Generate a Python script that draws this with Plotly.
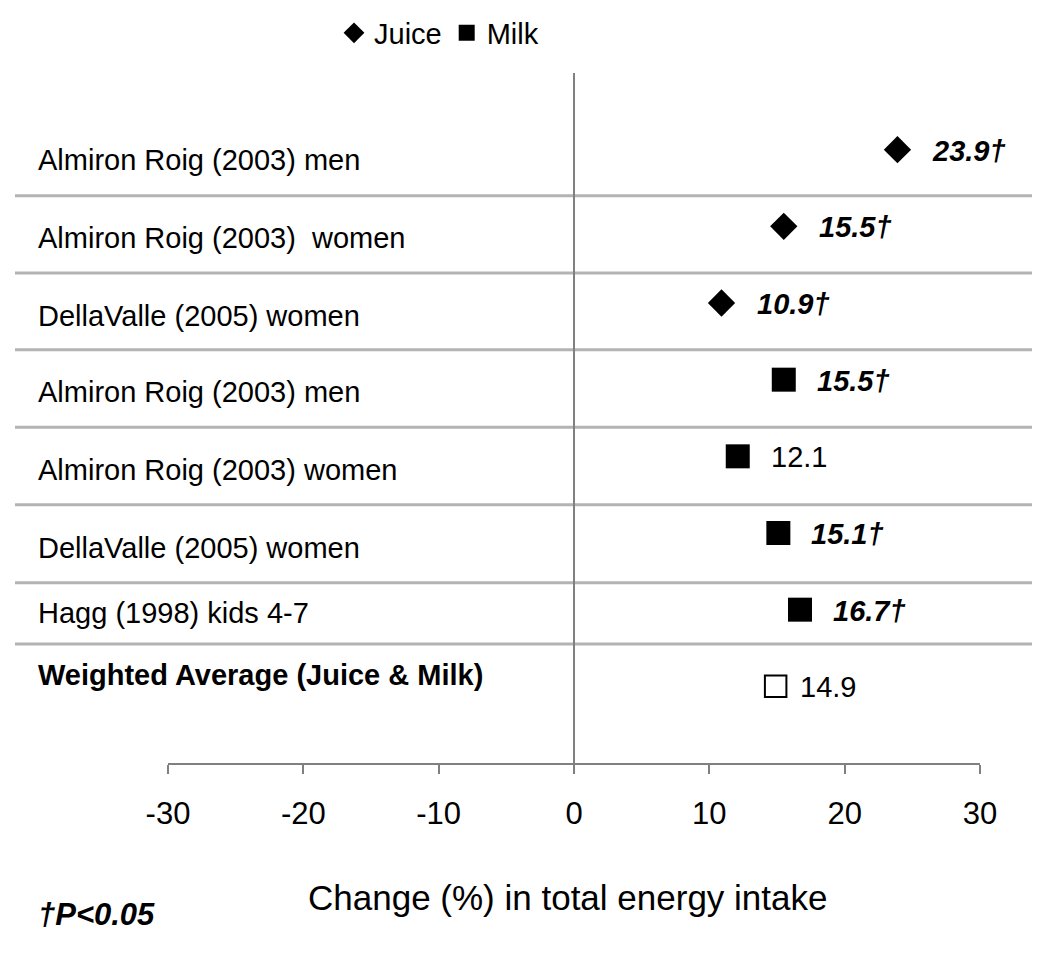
import plotly.graph_objects as go

# ---------------- data ----------------
row_labels = [
    "Almiron Roig (2003) men",
    "Almiron Roig (2003)\u00a0 women",
    "DellaValle (2005) women",
    "Almiron Roig (2003) men",
    "Almiron Roig (2003) women",
    "DellaValle (2005) women",
    "Hagg (1998) kids 4-7",
    "Weighted Average (Juice & Milk)",
]
juice_values = [23.9, 15.5, 10.9]
milk_values = [15.5, 12.1, 15.1, 16.7]
average_values = [14.9]
juice_significant = [True, True, True]
milk_significant = [True, False, True, True]
average_significant = [False]
tick_values = [-30, -20, -10, 0, 10, 20, 30]

# ---------------- layout helpers ----------------
row_pos = [8, 7, 6, 5, 4, 3, 2, 1]
juice_rows = row_pos[0:3]
milk_rows = row_pos[3:7]
average_rows = row_pos[7:8]
label_offsets = [-0.13, -0.15, -0.17, -0.16, -0.18, -0.195, -0.045, 0.15]
separator_y = [7.40, 6.39, 5.39, 4.38, 3.37, 2.35, 1.553]

FONT = "Arial, 'Liberation Sans', Helvetica, sans-serif"
OFF = 8  # page body margin
W, H = 1050 - OFF, 957 - OFF
ML, MT = 168 - OFF, 73 - OFF
MR = W - (980 - OFF)
MB = H - (763 - OFF)
PW = W - ML - MR
PH = H - MT - MB


def px_x(px):
    """reference-pixel x -> paper fraction"""
    return (px - OFF - ML) / PW


def px_y(py):
    """reference-pixel y -> paper fraction"""
    return (H - (py - OFF) - MB) / PH


fig = go.Figure()
fig.add_trace(go.Scatter(
    x=juice_values, y=juice_rows, mode="markers", name="Juice",
    marker=dict(symbol="diamond", size=21, color="black"),
    hoverinfo="x",
))
fig.add_trace(go.Scatter(
    x=milk_values, y=milk_rows, mode="markers", name="Milk",
    marker=dict(symbol="square", size=24, color="black"),
    hoverinfo="x",
))
fig.add_trace(go.Scatter(
    x=average_values, y=average_rows, mode="markers", name="Weighted Average",
    marker=dict(symbol="square", size=21.5, color="white",
                line=dict(color="black", width=2)),
    showlegend=False, hoverinfo="x",
))

annotations = []
for lab, r, off in zip(row_labels, row_pos, label_offsets):
    txt = f"<b>{lab}</b>" if lab.startswith("Weighted") else lab
    annotations.append(dict(
        x=px_x(36), xref="paper", y=r + off, yref="y",
        text=txt, showarrow=False, xanchor="left", yanchor="middle",
        font=dict(family=FONT, size=29, color="black"),
    ))


def value_labels(values, rows, sig, shift):
    for v, r, s in zip(values, rows, sig):
        txt = f"<b><i>{v:.1f}\u2020</i></b>" if s else f"{v:.1f}"
        annotations.append(dict(
            x=v, xref="x", y=r, yref="y", text=txt, showarrow=False,
            xanchor="left", yanchor="middle", xshift=shift, yshift=-1,
            font=dict(family=FONT, size=29, color="black"),
        ))


value_labels(juice_values, juice_rows, juice_significant, 33)
value_labels(milk_values, milk_rows, milk_significant, 31)
value_labels(average_values, average_rows, average_significant, 22)

annotations.append(dict(
    x=px_x(567), xref="paper", y=px_y(897), yref="paper",
    text="Change (%) in total energy intake", showarrow=False,
    xanchor="center", yanchor="middle",
    font=dict(family=FONT, size=35, color="black"),
))
annotations.append(dict(
    x=px_x(36), xref="paper", y=px_y(914), yref="paper",
    text="<b><i>\u2020P<0.05</i></b>", showarrow=False,
    xanchor="left", yanchor="middle",
    font=dict(family=FONT, size=31, color="black"),
))

shapes = []
for sy in separator_y:
    shapes.append(dict(
        type="line", xref="paper", yref="y",
        x0=px_x(15), x1=px_x(1032), y0=sy, y1=sy,
        line=dict(color="#b3b3b3", width=3), layer="below",
    ))

fig.update_layout(
    width=W, height=H,
    margin=dict(l=ML, r=MR, t=MT, b=MB, autoexpand=False),
    plot_bgcolor="white", paper_bgcolor="white",
    font=dict(family=FONT, color="black"),
    showlegend=True,
    legend=dict(
        orientation="h", x=px_x(334), xanchor="left",
        y=px_y(33), yanchor="middle",
        font=dict(family=FONT, size=29, color="black"),
        bgcolor="rgba(0,0,0,0)", borderwidth=0,
    ),
    xaxis=dict(
        range=[-30, 30], tickvals=tick_values,
        ticktext=[str(t) for t in tick_values],
        showgrid=False, zeroline=True, zerolinecolor="#808080", zerolinewidth=2,
        showline=True, linecolor="#808080", linewidth=2,
        ticks="outside", ticklen=9, tickwidth=2, tickcolor="#808080",
        tickfont=dict(family=FONT, size=31, color="black"),
        ticklabelstandoff=13, fixedrange=True,
    ),
    yaxis=dict(range=[0, 9], visible=False, showgrid=False, zeroline=False,
               fixedrange=True),
    annotations=annotations,
    shapes=shapes,
)

fig.write_html("out.html")
